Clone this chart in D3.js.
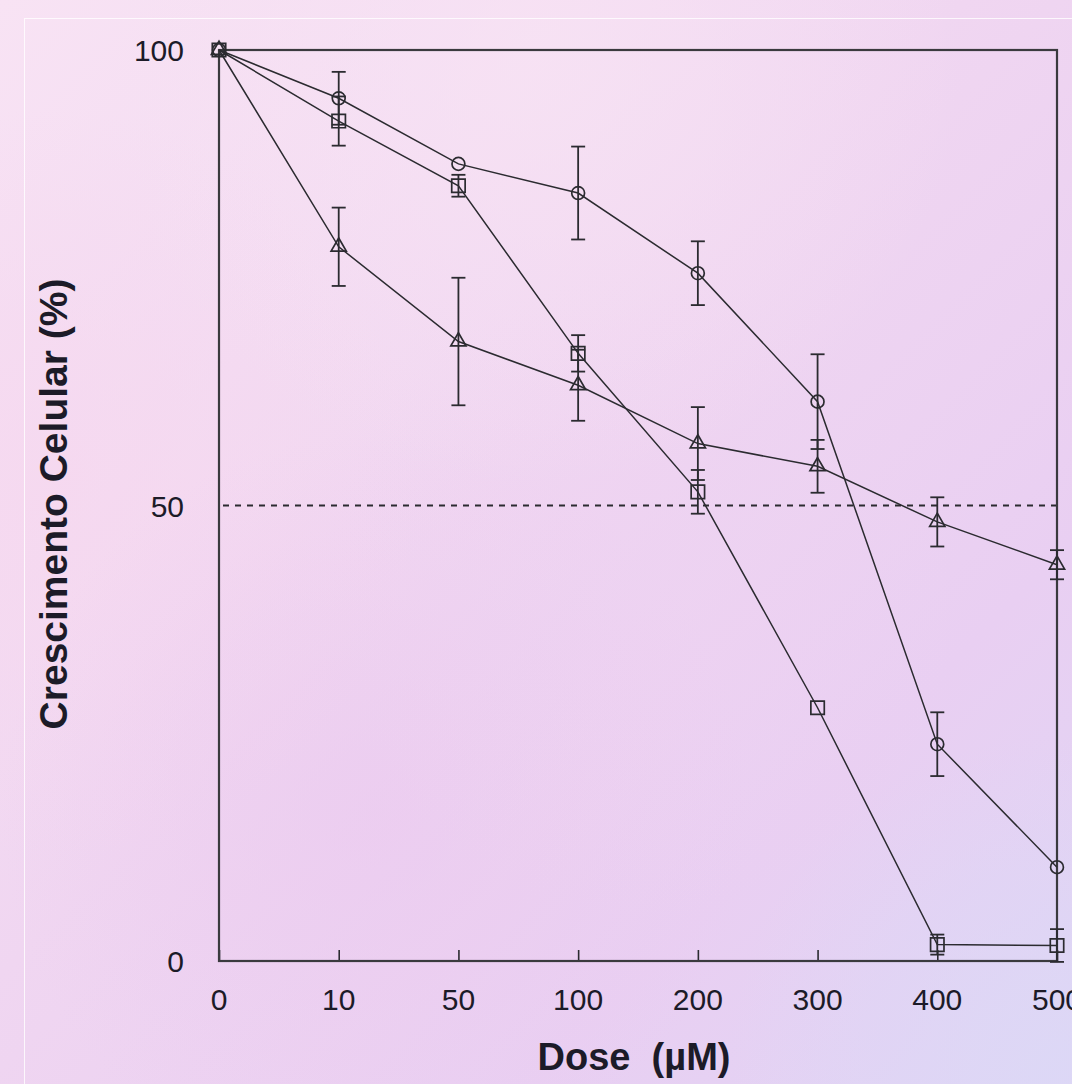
<!DOCTYPE html>
<html>
<head>
<meta charset="utf-8">
<script src="https://cdn.jsdelivr.net/npm/d3@7"></script>
<style>
  html, body { margin: 0; padding: 0; }
  body { width: 1072px; height: 1084px; overflow: hidden; }
  svg { display: block; }
  text { font-family: "Liberation Sans", Arial, sans-serif; fill: #1c1b28; }
</style>
</head>
<body>
<svg width="1072" height="1084"></svg>
<script>
// Doses on the x axis (equally spaced categories)
const doses = ["0", "10", "50", "100", "200", "300", "400", "500"];

// Cell growth (%) per series
const circleVals = [100, 94.7, 87.5, 84.3, 75.5, 61.4, 23.8, 10.3];
const circleErr = [0, 2.9, 0, 5.1, 3.5, 5.2, 3.5, 0];
const squareVals = [100, 92.2, 85.1, 66.7, 51.5, 27.8, 1.8, 1.7];
const squareErr = [0, 2.7, 1.2, 2.0, 2.4, 0, 1.1, 1.8];
const triangleVals = [100, 78.4, 68.0, 63.2, 56.8, 54.3, 48.2, 43.5];
const triangleErr = [0, 4.3, 7.0, 3.9, 4.0, 2.9, 2.7, 1.6];

const yTicks = [0, 50, 100];
const refLine = 50;

const W = 1072, H = 1084;
const plot = { left: 219, right: 1057, top: 50, bottom: 961 };

const svg = d3.select("svg");

// background: soft pink / lavender blotchy gradient
const defs = svg.append("defs");
const lg = defs.append("linearGradient").attr("id", "bg")
  .attr("x1", 0).attr("y1", 0).attr("x2", 1).attr("y2", 1);
lg.append("stop").attr("offset", "0%").attr("stop-color", "#f8e3f4");
lg.append("stop").attr("offset", "45%").attr("stop-color", "#f0d6f1");
lg.append("stop").attr("offset", "75%").attr("stop-color", "#e9cff2");
lg.append("stop").attr("offset", "100%").attr("stop-color", "#dfd5f5");

const blobs = [
  { id: "b1", cx: 0.05, cy: 0.45, r: 0.35, c: "#f6d8ef", o: 0.8 },
  { id: "b2", cx: 0.35, cy: 0.75, r: 0.35, c: "#ebc9ef", o: 0.6 },
  { id: "b3", cx: 0.6, cy: 0.55, r: 0.3, c: "#eed2f2", o: 0.5 },
  { id: "b4", cx: 0.98, cy: 0.98, r: 0.3, c: "#dcd8f6", o: 0.8 },
  { id: "b5", cx: 0.5, cy: 0.05, r: 0.4, c: "#f8e4f4", o: 0.7 }
];
blobs.forEach(b => {
  const rg = defs.append("radialGradient").attr("id", b.id)
    .attr("cx", b.cx).attr("cy", b.cy).attr("r", b.r);
  rg.append("stop").attr("offset", "0%").attr("stop-color", b.c).attr("stop-opacity", b.o);
  rg.append("stop").attr("offset", "100%").attr("stop-color", b.c).attr("stop-opacity", 0);
});

svg.append("rect").attr("width", W).attr("height", H).attr("fill", "url(#bg)");
blobs.forEach(b => {
  svg.append("rect").attr("width", W).attr("height", H).attr("fill", `url(#${b.id})`);
});

// faint white slide border
svg.append("rect")
  .attr("x", 24.5).attr("y", 18.5)
  .attr("width", W).attr("height", H)
  .attr("fill", "none")
  .attr("stroke", "#ffffff")
  .attr("stroke-opacity", 0.8)
  .attr("stroke-width", 1);

// scales
const x = d3.scalePoint().domain(doses).range([plot.left, plot.right]);
const y = d3.scaleLinear().domain([0, 100]).range([plot.bottom, plot.top]);

const ink = "#2b2b30";

// 50% reference line
svg.append("line")
  .attr("x1", plot.left).attr("x2", plot.right)
  .attr("y1", y(refLine)).attr("y2", y(refLine))
  .attr("stroke", ink)
  .attr("stroke-width", 2)
  .attr("stroke-dasharray", "6,6")
  .attr("stroke-dashoffset", -4);

// x axis, ticks pointing inward, labels drawn separately
const xAxis = d3.axisBottom(x).tickSize(-11).tickFormat("");
const gx = svg.append("g")
  .attr("transform", `translate(0,${plot.bottom})`)
  .call(xAxis);
gx.select(".domain").remove();
gx.selectAll(".tick line").attr("stroke", ink).attr("stroke-width", 1.6);

// frame
svg.append("rect")
  .attr("x", plot.left).attr("y", plot.top)
  .attr("width", plot.right - plot.left)
  .attr("height", plot.bottom - plot.top)
  .attr("fill", "none")
  .attr("stroke", "#3a3a3e")
  .attr("stroke-width", 2.2);

// tick labels
svg.append("g").selectAll("text")
  .data(doses)
  .join("text")
  .attr("x", d => x(d))
  .attr("y", 1010)
  .attr("text-anchor", "middle")
  .attr("font-size", 30)
  .text(d => d);

svg.append("g").selectAll("text")
  .data(yTicks)
  .join("text")
  .attr("x", 184)
  .attr("y", d => y(d) + 11)
  .attr("text-anchor", "end")
  .attr("font-size", 30)
  .text(d => d);

// axis titles
svg.append("text")
  .attr("x", 634)
  .attr("y", 1070)
  .attr("text-anchor", "middle")
  .attr("font-size", 38)
  .attr("font-weight", "bold")
  .attr("fill", "#111")
  .style("white-space", "pre")
  .text("Dose  (\u00b5M)");

svg.append("text")
  .attr("transform", "rotate(-90)")
  .attr("x", -504)
  .attr("y", 67)
  .attr("text-anchor", "middle")
  .attr("font-size", 39)
  .attr("font-weight", "bold")
  .attr("fill", "#111")
  .text("Crescimento Celular (%)");

// series
const series = [
  { vals: circleVals, err: circleErr, shape: "circle" },
  { vals: squareVals, err: squareErr, shape: "square" },
  { vals: triangleVals, err: triangleErr, shape: "triangle" }
];

const line = d3.line().x(d => x(d.dose)).y(d => y(d.v));
const cap = 7;

series.forEach(s => {
  const pts = doses.map((dose, i) => ({ dose, v: s.vals[i], e: s.err[i] }));
  const g = svg.append("g");

  g.append("path")
    .datum(pts)
    .attr("d", line)
    .attr("fill", "none")
    .attr("stroke", ink)
    .attr("stroke-width", 1.5);

  // error bars
  const eb = g.selectAll(".err")
    .data(pts.filter(p => p.e > 0))
    .join("g")
    .attr("stroke", ink)
    .attr("stroke-width", 1.8);
  eb.append("line")
    .attr("x1", p => x(p.dose)).attr("x2", p => x(p.dose))
    .attr("y1", p => y(p.v + p.e)).attr("y2", p => y(p.v - p.e));
  eb.append("line")
    .attr("x1", p => x(p.dose) - cap).attr("x2", p => x(p.dose) + cap)
    .attr("y1", p => y(p.v + p.e)).attr("y2", p => y(p.v + p.e));
  eb.append("line")
    .attr("x1", p => x(p.dose) - cap).attr("x2", p => x(p.dose) + cap)
    .attr("y1", p => y(p.v - p.e)).attr("y2", p => y(p.v - p.e));

  // markers (hollow)
  const sym = s.shape === "circle" ? d3.symbolCircle
    : s.shape === "square" ? d3.symbolSquare : d3.symbolTriangle;
  const size = s.shape === "circle" ? 130 : s.shape === "square" ? 180 : 100;
  g.selectAll(".mk")
    .data(pts)
    .join("path")
    .attr("d", d3.symbol().type(sym).size(size))
    .attr("transform", p => `translate(${x(p.dose)},${y(p.v)})`)
    .attr("fill", "none")
    .attr("stroke", ink)
    .attr("stroke-width", 1.7);
});
</script>
</body>
</html>
